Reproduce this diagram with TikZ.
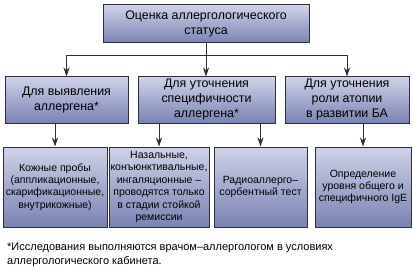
\documentclass[tikz,border=0pt]{standalone}
\usepackage{fontspec}
\setmainfont{Liberation Sans}
\usetikzlibrary{arrows.meta}
\definecolor{boxtop}{RGB}{206,210,232}
\definecolor{boxbot}{RGB}{122,130,178}
\definecolor{edge}{RGB}{46,46,60}

\begin{document}
\begin{tikzpicture}[x=1pt, y=-1pt,
    box/.style={draw=edge, line width=1pt, top color=boxtop, bottom color=boxbot,
      align=center, inner sep=0pt, minimum height=46pt, font=\fontsize{12.4}{15}\selectfont},
    leaf/.style={box, minimum height=80pt, font=\fontsize{10.5}{12.4}\selectfont},
    arr/.style={-{Stealth[length=9pt, width=6pt]}, draw=edge, line width=1pt}]
  \useasboundingbox (0,0) rectangle (414,267);
  % boxes
  \node[box, minimum width=206pt, minimum height=38pt] (status) at (206,24) {Оценка аллергологического\\статуса};
  \node[box, minimum width=123pt] (find) at (66.5,100) {Для выявления\\аллергена*};
  \node[box, minimum width=137pt] (spec) at (206.5,100) {Для уточнения\\специфичности\\аллергена*};
  \node[box, minimum width=124pt] (atopy) at (347,100) {Для уточнения\\роли атопии\\в развитии БА};
  \node[leaf, minimum width=104pt] (skin) at (55,187) {Кожные пробы\\(аппликационные,\\скарификационные,\\внутрикожные)};
  \node[leaf, minimum width=100pt] (provoc) at (159,187) {Назальные,\\конъюнктивальные,\\ингаляционные –\\проводятся только\\в стадии стойкой\\ремиссии};
  \node[leaf, minimum width=93pt] (rast) at (260.5,187) {Радиоаллерго–\\сорбентный тест};
  \node[leaf, minimum width=96pt] (ige) at (363,187) {Определение\\уровня общего и\\специфичного IgE};
  % connectors
  \coordinate (fork) at ([yshift=-12pt]status.south);
  \draw[edge, line width=1pt] (status.south) -- (fork);
  \draw[arr] (fork) -| (find.north);
  \draw[arr] (fork) -| (atopy.north);
  \draw[arr] (fork) -- (fork |- spec.north);
  \foreach \a/\b in {find/skin, spec/provoc, spec/rast, atopy/ige}
    \draw[arr] (\a.south -| \b.north) -- (\b.north);
  \node[anchor=north west, inner sep=0pt, align=left, font=\fontsize{11}{14}\selectfont] (note) at (7,243)
    {*Исследования выполняются врачом–аллергологом в условиях\\аллергологического кабинета.};
\end{tikzpicture}
\end{document}
